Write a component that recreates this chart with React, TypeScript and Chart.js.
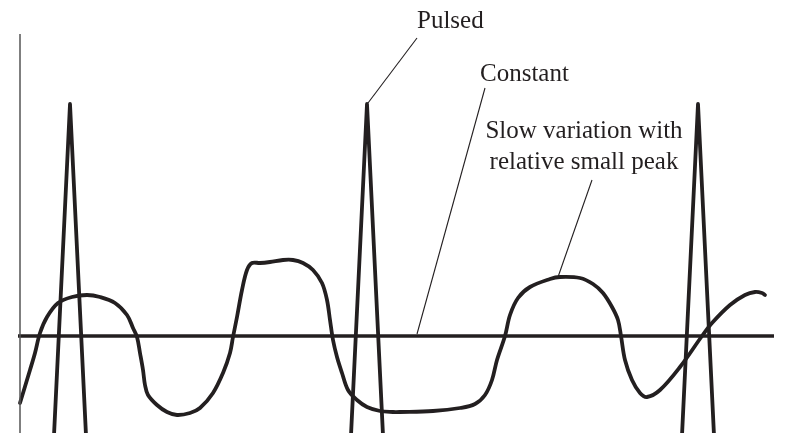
import React, { useEffect, useRef } from "react";
import { Chart, registerables } from "chart.js";

Chart.register(...registerables);

// Units: x = time (arbitrary), y = amplitude (arbitrary)
const X_MIN = -2;
const X_MAX = 77.5;
const Y_MIN = -9.7;
const Y_MAX = 33.6;

// Slow variation with relative small peak
const slowT = [0.0, 1.0, 1.5, 2.0, 2.7, 3.8, 5.2, 6.7, 8.0, 9.5, 10.7, 11.3, 11.7, 12.0, 12.3, 12.5, 12.8, 13.7, 14.7, 15.7, 17.0, 18.0, 19.3, 20.3, 21.0, 21.3, 21.7, 22.2, 22.7, 23.2, 24.0, 25.0, 26.3, 27.3, 28.3, 29.3, 30.2, 30.7, 31.0, 31.3, 31.7, 32.2, 32.8, 33.7, 34.7, 36.0, 37.3, 38.0, 41.3, 44.0, 45.5, 46.5, 47.2, 47.7, 48.5, 49.0, 49.8, 51.0, 53.0, 54.0, 56.0, 57.3, 58.3, 59.2, 59.8, 60.1, 60.5, 61.2, 62.0, 62.7, 64.0, 66.0, 68.2, 69.2, 71.0, 72.5, 73.5, 74.2, 74.5];
const slowV = [-6.7, -3.4, -1.7, 0.3, 1.9, 3.3, 3.9, 4.1, 3.9, 3.3, 2.1, 0.8, -0.1, -1.7, -3.4, -4.9, -5.9, -6.9, -7.6, -7.9, -7.7, -7.2, -5.7, -3.7, -1.7, -0.1, 1.9, 4.6, 6.6, 7.3, 7.3, 7.4, 7.6, 7.6, 7.3, 6.6, 5.3, 3.6, 1.6, -0.4, -2.1, -3.7, -5.4, -6.4, -7.1, -7.5, -7.6, -7.6, -7.5, -7.2, -6.8, -5.9, -4.4, -2.4, 0.0, 2.1, 3.8, 4.9, 5.7, 5.9, 5.8, 5.2, 4.3, 2.9, 1.6, 0.0, -2.4, -4.4, -5.7, -6.1, -5.4, -3.1, 0.0, 1.3, 3.1, 4.1, 4.4, 4.3, 4.1];

// Pulsed
const pulseCenters = [5.0, 34.7, 67.8];
const pulsePeak = 23.2;
const pulseBase = -12;
const pulseHalfWidth = 1.7;

// Constant
const constantT = [-0.2, 75.4];
const constantV = [0, 0];

// Vertical axis
const axisT = [0, 0];
const axisV = [30.2, -12];

// Annotations: leader lines [x1, y1, x2, y2]
const leaderPulsed = [34.8, 23.3, 39.7, 29.8];
const leaderConstant = [46.5, 24.8, 39.7, 0.2];
const leaderSlow = [57.2, 15.6, 53.8, 5.9];

const labelPulsed = { text: "Pulsed", x: 39.7, y: 30.8, align: "left" };
const labelConstant = { text: "Constant", x: 46.0, y: 25.5, align: "left" };
const labelSlow1 = { text: "Slow variation with", x: 56.4, y: 19.8, align: "center" };
const labelSlow2 = { text: "relative small peak", x: 56.4, y: 16.7, align: "center" };
const labels = [labelPulsed, labelConstant, labelSlow1, labelSlow2];

const INK = "#231f20";

export default function App() {
  const ref = useRef<HTMLCanvasElement | null>(null);

  useEffect(() => {
    document.body.style.margin = "0";
    const canvas = ref.current;
    if (!canvas) return;

    const slowData = slowT.map((t, i) => ({ x: t, y: slowV[i] }));
    const pulseData: { x: number; y: number | null }[] = [];
    pulseCenters.forEach((c, i) => {
      if (i > 0) pulseData.push({ x: c - 10, y: null });
      pulseData.push({ x: c - pulseHalfWidth, y: pulseBase });
      pulseData.push({ x: c, y: pulsePeak });
      pulseData.push({ x: c + pulseHalfWidth, y: pulseBase });
    });
    const constData = constantT.map((t, i) => ({ x: t, y: constantV[i] }));
    const axisData = axisT.map((t, i) => ({ x: t, y: axisV[i] }));
    const seg = (s: number[]) => [
      { x: s[0], y: s[1] },
      { x: s[2], y: s[3] },
    ];

    const textPlugin = {
      id: "annotText",
      afterDatasetsDraw(chart: any) {
        const ctx = chart.ctx;
        const xs = chart.scales.x;
        const ys = chart.scales.y;
        ctx.save();
        ctx.fillStyle = INK;
        ctx.font = '25px "Liberation Serif", "Times New Roman", serif';
        ctx.textBaseline = "alphabetic";
        labels.forEach((l) => {
          ctx.textAlign = l.align as CanvasTextAlign;
          ctx.fillText(l.text, xs.getPixelForValue(l.x), ys.getPixelForValue(l.y));
        });
        ctx.restore();
      },
    };

    const common = {
      pointRadius: 0,
      fill: false,
      showLine: true,
      borderColor: INK,
    };

    const chart = new Chart(canvas, {
      type: "scatter",
      data: {
        datasets: [
          { ...common, label: "Axis", data: axisData, borderWidth: 1.5, borderColor: "#555555" },
          { ...common, label: "Constant", data: constData, borderWidth: 3.5 },
          {
            ...common,
            label: "Slow variation",
            data: slowData,
            borderWidth: 3.8,
            tension: 0.35,
            borderCapStyle: "round",
            borderJoinStyle: "round",
          },
          {
            ...common,
            label: "Pulsed",
            data: pulseData,
            borderWidth: 3.8,
            spanGaps: false,
            borderJoinStyle: "round",
            borderCapStyle: "round",
          },
          { ...common, label: "Leader pulsed", data: seg(leaderPulsed), borderWidth: 1.1 },
          { ...common, label: "Leader constant", data: seg(leaderConstant), borderWidth: 1.1 },
          { ...common, label: "Leader slow", data: seg(leaderSlow), borderWidth: 1.1 },
        ],
      },
      options: {
        responsive: false,
        animation: false,
        layout: { padding: 0 },
        plugins: {
          legend: { display: false },
          tooltip: { enabled: false },
          title: { display: false },
        },
        scales: {
          x: { type: "linear", min: X_MIN, max: X_MAX, display: false },
          y: { type: "linear", min: Y_MIN, max: Y_MAX, display: false },
        },
      },
      plugins: [textPlugin],
    } as any);

    return () => chart.destroy();
  }, []);

  return (
    <div style={{ width: 795, height: 433, background: "#ffffff" }}>
      <canvas ref={ref} width={795} height={433} style={{ display: "block" }} />
    </div>
  );
}
